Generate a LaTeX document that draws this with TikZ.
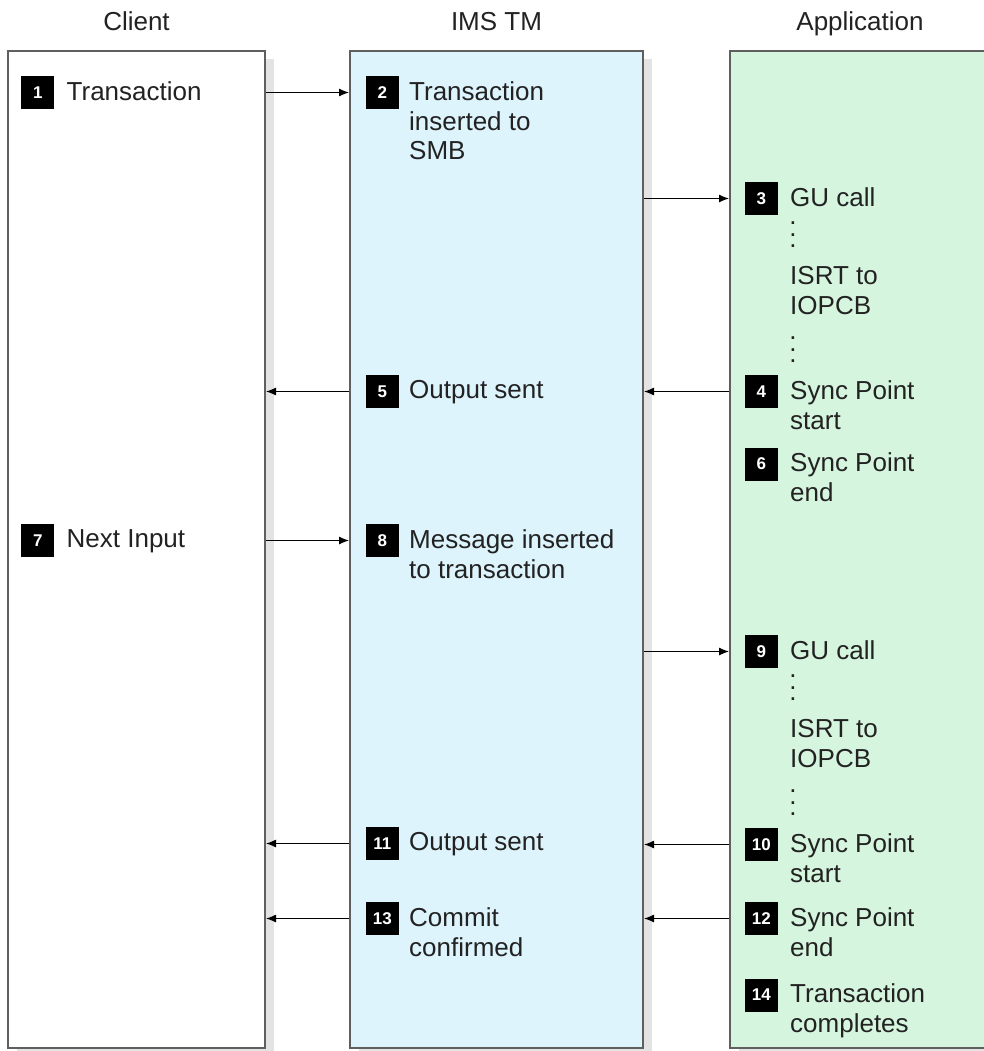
\documentclass[tikz,border=0pt]{standalone}
\usepackage{fontspec}
\setmainfont{Liberation Sans}
\usetikzlibrary{positioning}
\usetikzlibrary{shadows}
\usetikzlibrary{arrows.meta}
\definecolor{imsblue}{RGB}{221,244,252}
\definecolor{appgreen}{RGB}{214,245,222}
\definecolor{laneline}{RGB}{95,95,95}
\definecolor{ink}{RGB}{34,34,34}
\newcommand\vdotstack{\vbox{\baselineskip=11.5pt\lineskiplimit=-30pt\lineskip=0pt
  \hbox{.}\hbox{.}\hbox{.}}}

\tikzset{
  lane/.style = {draw=laneline, line width=2pt, minimum height=997pt, inner sep=0pt,
    drop shadow={shadow xshift=9pt, shadow yshift=-8pt, fill=black!11, opacity=1}},
  head/.style = {text=ink, font=\fontsize{26}{30}\selectfont, anchor=base, inner sep=0pt},
  steptext/.style = {text=ink, font=\fontsize{26}{29.8}\selectfont, align=left, anchor=north west, inner sep=0pt},
  badge/.style = {fill=black, text=white, font=\bfseries\fontsize{17}{17}\selectfont,
    minimum size=33pt, inner sep=0pt, yshift=-11.3pt},
  vdotsnode/.style = {text=ink, font=\fontsize{26}{30}\selectfont, inner sep=0pt},
  flow/.style = {-{Latex[length=10pt,width=8pt]}, line width=1.2pt, black}
}

\begin{document}
\begin{tikzpicture}[x=1pt, y=-1pt]
\useasboundingbox (0,0) rectangle (983,1051);

\node[lane, fill=white, minimum width=257pt] (client) at (136.5,549.5) {};
\node[lane, fill=imsblue, minimum width=293pt] (ims) at (496.5,549.5) {};
\node[lane, fill=appgreen, minimum width=262pt] (app) at (861,549.5) {};

\node[head] (hclient) at (client.north |- 0,31) {Client};
\node[head] (hims) at (ims.north |- 0,31) {IMS TM};
\node[head] (happ) at (860,31) {Application};

% client
\node[steptext] (s1) at (66.5,81.2) {Transaction};
\node[badge, left=12pt of s1.north west] (b1) {1};
\node[steptext] (s7) at (66.5,529.2) {Next Input};
\node[badge, left=12pt of s7.north west] (b7) {7};

% IMS TM
\node[steptext] (s2) at (409,81.2) {Transaction\\inserted to\\SMB};
\node[badge, left=10pt of s2.north west] (b2) {2};
\node[steptext] (s5) at (409,380.2) {Output sent};
\node[badge, left=10pt of s5.north west] (b5) {5};
\node[steptext] (s8) at (409,529.2) {Message inserted\\to transaction};
\node[badge, left=10pt of s8.north west] (b8) {8};
\node[steptext] (s11) at (409,832.2) {Output sent};
\node[badge, left=10pt of s11.north west] (b11) {11};
\node[steptext] (s13) at (409,907.2) {Commit\\confirmed};
\node[badge, left=10pt of s13.north west] (b13) {13};

% application
\node[steptext] (s3) at (790,187.2) {GU call};
\node[badge, left=12pt of s3.north west] (b3) {3};
\node[vdotsnode] (d3a) at (793,235) {\vdotstack};
\node[steptext] (isrt3) at (790,266.2) {ISRT to\\IOPCB};
\node[vdotsnode] (d3b) at (793,350) {\vdotstack};
\node[steptext] (s4) at (790,380.2) {Sync Point\\start};
\node[badge, left=12pt of s4.north west] (b4) {4};
\node[steptext] (s6) at (790,452.7) {Sync Point\\end};
\node[badge, left=12pt of s6.north west] (b6) {6};
\node[steptext] (s9) at (790,640.2) {GU call};
\node[badge, left=12pt of s9.north west] (b9) {9};
\node[vdotsnode] (d9a) at (793,688) {\vdotstack};
\node[steptext] (isrt9) at (790,719.2) {ISRT to\\IOPCB};
\node[vdotsnode] (d9b) at (793,803) {\vdotstack};
\node[steptext] (s10) at (790,833.2) {Sync Point\\start};
\node[badge, left=12pt of s10.north west] (b10) {10};
\node[steptext] (s12) at (790,907.2) {Sync Point\\end};
\node[badge, left=12pt of s12.north west] (b12) {12};
\node[steptext] (s14) at (790,983.7) {Transaction\\completes};
\node[badge, left=12pt of s14.north west] (b14) {14};

\draw[flow] (client.east |- b1) -- (ims.west |- b1);
\draw[flow] (ims.east |- b3) -- (app.west |- b3);
\draw[flow] (app.west |- b4) -- (ims.east |- b4);
\draw[flow] (ims.west |- b5) -- (client.east |- b5);
\draw[flow] (client.east |- b7) -- (ims.west |- b7);
\draw[flow] (ims.east |- b9) -- (app.west |- b9);
\draw[flow] (app.west |- b10) -- (ims.east |- b10);
\draw[flow] (ims.west |- b11) -- (client.east |- b11);
\draw[flow] (app.west |- b12) -- (ims.east |- b12);
\draw[flow] (ims.west |- b13) -- (client.east |- b13);
\end{tikzpicture}
\end{document}
